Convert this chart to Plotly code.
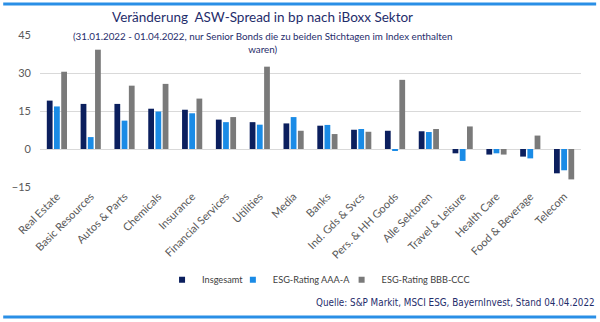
import plotly.graph_objects as go

# Sectors (iBoxx) and spread changes in bp
sektoren = [
    "Real Estate", "Basic Resources", "Autos & Parts", "Chemicals", "Insurance",
    "Financial Services", "Utilities", "Media", "Banks", "Ind. Gds & Svcs",
    "Pers. & HH Goods", "Alle Sektoren", "Travel & Leisure", "Health Care",
    "Food & Beverage", "Telecom",
]
insgesamt = [19.1, 17.8, 17.8, 15.9, 15.5, 11.6, 10.6, 10.1, 9.2, 7.6, 7.2, 7.0, -1.7, -2.2, -3.0, -9.6]
esg_aaa_a = [16.8, 4.7, 11.2, 14.8, 14.1, 10.6, 9.6, 12.6, 9.5, 7.9, -0.5, 6.7, -4.7, -1.7, -3.7, -8.4]
esg_bbb_ccc = [30.5, 39.2, 25.0, 25.7, 19.9, 12.6, 32.5, 7.2, 5.9, 6.8, 27.3, 7.9, 8.9, -2.2, 5.3, -12.0]

y_ticks = [-15, 0, 15, 30, 45]

NAVY = "#0b1f5e"
BLUE = "#1a8be6"
GRAY = "#7a7a7a"
TITLE_COL = "#1f2d6b"
FONT = "Lato, Open Sans, sans-serif"

series = [
    ("Insgesamt", insgesamt, NAVY, "legend"),
    ("ESG-Rating AAA-A", esg_aaa_a, BLUE, "legend2"),
    ("ESG-Rating BBB-CCC", esg_bbb_ccc, GRAY, "legend3"),
]

fig = go.Figure()
for name, vals, col, _ in series:
    fig.add_trace(go.Bar(x=sektoren, y=vals, name=name, marker_color=col,
                         marker_line_width=0, showlegend=False))
# small square legend keys, one legend box per series for compact spacing
for name, vals, col, lg in series:
    fig.add_trace(go.Scatter(x=[None], y=[None], mode="markers", name=name,
                             legend=lg,
                             marker=dict(symbol="square", size=6, color=col)))

legend_style = dict(orientation="h", xanchor="left", y=-0.61, yanchor="middle",
                    font=dict(size=9.2, color="#404040"), itemwidth=30,
                    bgcolor="rgba(0,0,0,0)")

fig.update_layout(
    width=600, height=322,
    margin=dict(l=40, r=19, t=35, b=135),
    paper_bgcolor="white", plot_bgcolor="white",
    barmode="group", bargap=0.36, bargroupgap=0.2,
    font=dict(family=FONT, color="#595959", size=11),
    showlegend=True,
    legend=dict(x=0.2256, **legend_style),
    legend2=dict(x=0.3565, **legend_style),
    legend3=dict(x=0.5575, **legend_style),
    annotations=[
        dict(text="Veränderung  ASW-Spread in bp nach iBoxx Sektor",
             xref="paper", yref="paper", x=0.411, y=1.0, yshift=18,
             yanchor="middle", xanchor="center", showarrow=False,
             font=dict(size=13.5, color=TITLE_COL, family=FONT)),
        dict(text="(31.01.2022 - 01.04.2022, nur Senior Bonds die zu beiden Stichtagen im Index enthalten<br>waren)",
             xref="paper", yref="paper", x=0.412, y=1.0, yshift=-7.5,
             yanchor="middle", xanchor="center", showarrow=False,
             font=dict(size=9.8, color=TITLE_COL, family=FONT)),
        dict(text="Quelle: S&P Markit, MSCI ESG, BayernInvest, Stand 04.04.2022",
             xref="paper", yref="paper", x=1.03, y=-0.763, xanchor="right",
             yanchor="middle", showarrow=False,
             font=dict(size=9.8, color=TITLE_COL,
                       family="DejaVu Sans Condensed, Liberation Sans Narrow, sans-serif")),
    ],
    shapes=[
        dict(type="line", xref="paper", yref="paper", x0=-0.068, x1=1.028,
             y0=1.0 + 31 / 152, y1=1.0 + 31 / 152, line=dict(color="#2a8fe6", width=3)),
        dict(type="line", xref="paper", yref="paper", x0=-0.068, x1=1.028,
             y0=-(317 - 187) / 152, y1=-(317 - 187) / 152, line=dict(color="#2a8fe6", width=3)),
    ],
)
fig.update_xaxes(tickangle=-45, showgrid=False, showline=False, ticks="",
                 tickfont=dict(size=11, color="#595959"))
fig.update_yaxes(range=[-15, 45], tickvals=y_ticks, showgrid=True,
                 gridcolor="#d9d9d9", gridwidth=1, zeroline=True,
                 zerolinecolor="#d9d9d9", zerolinewidth=1, ticks="",
                 tickfont=dict(size=11, color="#595959"), ticklabelstandoff=8)

fig.write_html("out.html")
